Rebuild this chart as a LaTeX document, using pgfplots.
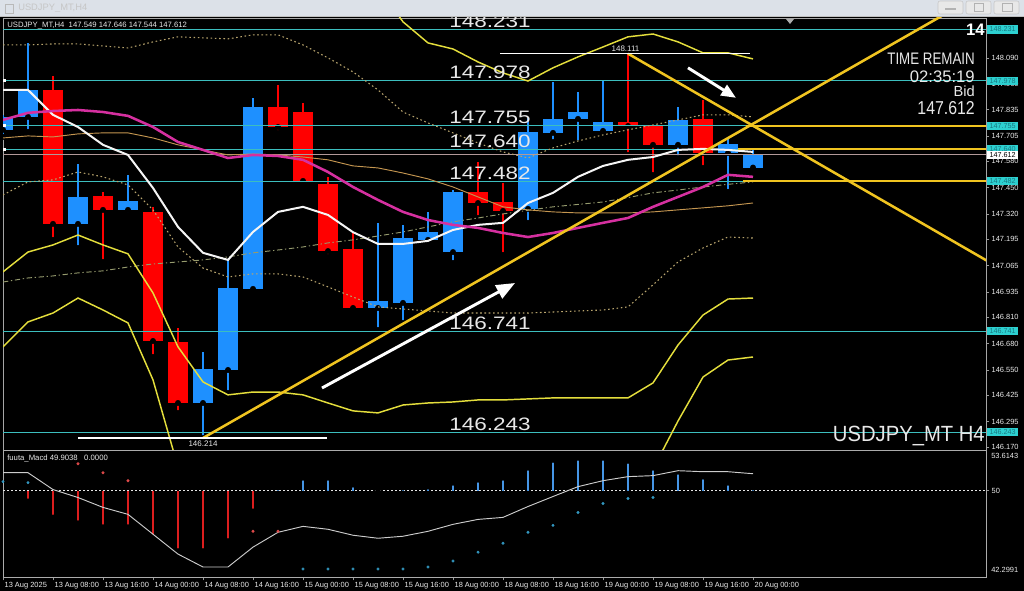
\documentclass[border=0pt]{standalone}
\usepackage{pgfplots}
\pgfplotsset{compat=1.18}
\usepackage{pgfplotstable}
\usepackage{fontspec}
\setmainfont{Liberation Sans}
\usetikzlibrary{arrows.meta}
\newcommand{\fs}[1]{\fontsize{#1}{#1}\selectfont}

\definecolor{upc}{RGB}{30,144,255}
\definecolor{dnc}{RGB}{255,0,0}
\definecolor{cyl}{RGB}{60,190,190}
\definecolor{gold}{RGB}{240,196,32}
\definecolor{byel}{RGB}{228,222,60}
\definecolor{mag}{RGB}{214,48,160}
\definecolor{tanl}{RGB}{196,150,80}
\definecolor{dashc}{RGB}{150,155,110}
\definecolor{dotc}{RGB}{185,165,110}
\definecolor{boxc}{RGB}{45,208,208}
\definecolor{boxt}{RGB}{25,120,130}
\definecolor{hblue}{RGB}{70,150,230}
\definecolor{hred}{RGB}{220,30,30}
\definecolor{tbar}{RGB}{220,225,232}
\definecolor{txt}{RGB}{232,232,232}

\pgfplotstableread{
i o h l c
0 147.735 147.810 147.700 147.799
1 147.799 148.164 147.725 147.932
3 147.271 147.567 147.152 147.404
5 147.340 147.512 147.315 147.384
8 146.387 146.639 146.214 146.555
9 146.550 147.093 146.436 146.955
10 146.950 147.893 146.940 147.848
15 146.856 147.276 146.747 146.891
16 146.881 147.266 146.782 147.202
17 147.192 147.330 147.185 147.231
18 147.132 147.440 147.078 147.429
21 147.345 147.794 147.276 147.725
22 147.720 147.972 147.675 147.789
23 147.789 147.922 147.670 147.823
24 147.730 147.981 147.720 147.774
27 147.661 147.848 147.596 147.784
29 147.621 147.695 147.429 147.665
30 147.549 147.646 147.544 147.612
}\candleUp

\pgfplotstableread{
i o h l c
2 147.932 148.001 147.192 147.271
4 147.409 147.429 147.083 147.340
6 147.330 147.355 146.614 146.693
7 146.688 146.757 146.338 146.387
11 147.848 147.957 147.720 147.749
12 147.823 147.868 147.473 147.483
13 147.468 147.503 147.108 147.137
14 147.147 147.226 146.840 146.856
19 147.429 147.577 147.300 147.374
20 147.379 147.473 147.118 147.335
25 147.774 148.111 147.611 147.754
26 147.754 147.760 147.512 147.661
28 147.789 147.883 147.547 147.621
}\candleDn

\pgfplotstableread{
i w m t d ud ld lba lbb ub
0 147.932 147.784 147.695 146.984 148.154 147.414 147.034 146.664 148.53
1 147.932 147.819 147.705 147.004 148.154 147.478 147.132 146.787 148.51
2 147.809 147.828 147.700 147.014 148.159 147.488 147.167 146.831 148.49
3 147.749 147.833 147.715 147.029 148.159 147.527 147.216 146.905 148.45
4 147.661 147.823 147.720 147.039 148.149 147.503 147.167 146.846 148.48
5 147.611 147.804 147.720 147.058 148.139 147.463 147.123 146.782 148.49
6 147.448 147.749 147.695 147.073 148.169 147.340 146.930 146.501 148.57
7 147.256 147.675 147.661 147.083 148.194 147.157 146.664 146.071 148.69
8 147.128 147.636 147.636 147.093 148.189 147.053 146.491 145.890 148.78
9 147.093 147.596 147.611 147.108 148.184 147.009 146.427 145.835 148.77
10 147.231 147.611 147.616 147.128 148.204 147.024 146.441 145.850 148.78
11 147.330 147.606 147.611 147.142 148.204 147.024 146.441 145.860 148.77
12 147.355 147.587 147.601 147.157 148.154 147.009 146.427 145.853 148.75
13 147.315 147.527 147.587 147.177 148.090 146.960 146.387 145.826 148.67
14 147.230 147.453 147.557 147.192 148.021 146.910 146.348 145.824 148.56
15 147.172 147.389 147.547 147.211 147.932 146.861 146.338 145.805 148.44
16 147.172 147.330 147.522 147.231 147.823 146.851 146.377 145.893 148.268
17 147.187 147.290 147.493 147.256 147.769 146.841 146.387 145.943 148.164
18 147.241 147.266 147.453 147.281 147.720 146.831 146.392 145.961 148.134
19 147.266 147.251 147.404 147.300 147.670 146.831 146.402 145.991 148.070
20 147.276 147.226 147.355 147.320 147.626 146.831 146.402 146.041 148.016
21 147.374 147.206 147.340 147.338 147.596 146.831 146.407 146.081 147.976
22 147.424 147.226 147.330 147.355 147.646 146.836 146.412 146.056 148.041
23 147.503 147.251 147.325 147.367 147.680 146.841 146.412 146.021 148.095
24 147.557 147.276 147.325 147.379 147.710 146.846 146.412 145.986 148.144
25 147.587 147.300 147.325 147.401 147.735 146.861 146.412 145.983 148.194
26 147.601 147.355 147.330 147.424 147.759 146.970 146.486 146.061 148.208
27 147.636 147.404 147.340 147.438 147.784 147.083 146.673 146.298 148.169
28 147.641 147.453 147.350 147.453 147.809 147.152 146.821 146.515 148.115
29 147.636 147.513 147.360 147.466 147.809 147.206 146.900 146.599 148.115
30 147.626 147.503 147.374 147.478 147.799 147.201 146.905 146.614 148.085
}\indic

\pgfplotstableread{
i v
1 49.03
2 47.60
3 47.08
4 46.73
5 46.73
6 45.84
7 44.60
8 44.60
9 45.49
10 48.14
}\hneg

\pgfplotstableread{
i v
11 50.27
12 51.15
13 51.15
14 50.53
15 50.09
16 50.27
17 50.35
18 50.70
19 50.97
20 51.15
21 52.04
22 52.74
23 52.92
24 52.92
25 52.65
26 52.04
27 51.68
28 51.24
29 50.70
30 50.27
}\hpos

\pgfplotstableread{
i v
3 52.39
4 51.59
5 50.88
10 46.37
11 46.37
}\dotred

\pgfplotstableread{
i v
0 50.80
1 50.71
12 43.01
13 43.01
14 43.01
15 43.01
16 43.01
17 43.19
18 43.72
19 44.51
20 45.31
21 46.28
22 46.90
23 48.05
24 48.85
25 49.29
26 49.38
}\dotcyan

\pgfplotstableread{
i s
0 51.59
1 51.59
2 50.09
3 49.38
4 48.50
5 47.88
6 46.11
7 44.34
8 43.19
9 43.19
10 44.96
11 46.28
12 46.81
13 46.55
14 46.02
15 45.75
16 45.93
17 46.37
18 46.99
19 47.43
20 47.61
21 48.58
22 49.47
23 50.35
24 50.88
25 51.24
26 51.33
27 51.77
28 51.68
29 51.68
30 51.50
}\sig

\tikzset{bigl/.style={font=\fs{13.5pt}, text=txt, inner sep=0pt}}

\begin{document}
\begin{tikzpicture}
\fill[black] (0,0) rectangle (768pt,443.25pt);

% ---------------- main price chart ----------------
\begin{axis}[
  name=main,
  at={(2.25pt,429.75pt)}, anchor=north west, scale only axis,
  width=737.25pt, height=324pt,
  xmin=0, xmax=39.32, ymin=146.155, ymax=148.287,
  clip mode=individual,
  axis line style={draw=gray!70, line width=0.6pt},
  xtick=\empty,
  ytick={146.170,146.295,146.425,146.550,146.680,146.810,146.935,147.065,147.195,147.320,147.450,147.580,147.705,147.835,147.960,148.090},
  ytick pos=right, yticklabel pos=right,
  tick align=outside, major tick length=2.5pt,
  tick style={draw=gray!80, line width=0.5pt},
  scaled y ticks=false,
  y tick label style={font=\fs{5.6pt}, text=white!85!gray, inner sep=1.5pt},
  yticklabel={\pgfmathprintnumber[fixed, fixed zerofill, precision=3, assume math mode=true]{\tick}},
]
% candles: wicks
\addplot[only marks, mark=none, error bars/.cd, y dir=plus, y explicit, error mark=none,
  error bar style={draw=upc, line width=1pt}]
  table[x=i, y=l, y error plus expr=\thisrow{h}-\thisrow{l}] {\candleUp};
\addplot[only marks, mark=none, error bars/.cd, y dir=plus, y explicit, error mark=none,
  error bar style={draw=dnc, line width=1pt}]
  table[x=i, y=l, y error plus expr=\thisrow{h}-\thisrow{l}] {\candleDn};
% candles: bodies
\addplot[only marks, mark=none, error bars/.cd, y dir=plus, y explicit, error mark=none,
  error bar style={draw=upc, line width=14.5pt}]
  table[x=i, y=o, y error plus expr=\thisrow{c}-\thisrow{o}] {\candleUp};
\addplot[only marks, mark=none, error bars/.cd, y dir=plus, y explicit, error mark=none,
  error bar style={draw=dnc, line width=14.5pt}]
  table[x=i, y=c, y error plus expr=\thisrow{o}-\thisrow{c}] {\candleDn};

% horizontal cyan levels
\addplot[cyl, line width=0.8pt, mark=none] coordinates {(0,148.231) (39.32,148.231)};
\addplot[cyl, line width=0.8pt, mark=none] coordinates {(0,147.978) (39.32,147.978)};
\addplot[cyl, line width=0.8pt, mark=none] coordinates {(0,147.755) (39.32,147.755)};
\addplot[cyl, line width=0.8pt, mark=none] coordinates {(0,147.640) (39.32,147.640)};
\addplot[cyl, line width=0.8pt, mark=none] coordinates {(0,147.482) (39.32,147.482)};
\addplot[cyl, line width=0.8pt, mark=none] coordinates {(0,146.741) (39.32,146.741)};
\addplot[cyl, line width=0.8pt, mark=none] coordinates {(0,146.243) (39.32,146.243)};
% bid line
\addplot[gray!60!pink, line width=0.5pt, mark=none] coordinates {(0,147.612) (39.32,147.612)};

% indicators
\addplot[dotc, line width=0.8pt, dash pattern=on 1.2pt off 2pt, mark=none] table[x=i,y=ud] {\indic};
\addplot[dotc, line width=0.8pt, dash pattern=on 1.2pt off 2pt, mark=none] table[x=i,y=ld] {\indic};
\addplot[dashc, line width=0.7pt, dash pattern=on 4pt off 2pt on 1pt off 2pt, mark=none] table[x=i,y=d] {\indic};
\addplot[tanl, line width=0.7pt, mark=none] table[x=i,y=t] {\indic};
\addplot[byel, line width=1.1pt, mark=none] table[x=i,y=lba] {\indic};
\addplot[byel, line width=1.1pt, mark=none] table[x=i,y=lbb] {\indic};
\addplot[byel, line width=1.1pt, mark=none] table[x=i,y=ub] {\indic};
\addplot[white!92!gray, line width=1.5pt, mark=none] table[x=i,y=w] {\indic};
\addplot[mag, line width=1.9pt, mark=none] table[x=i,y=m] {\indic};

% trend lines and levels
\addplot[gold, line width=1.9pt, mark=none] coordinates {(8,146.214) (38,148.329)};
\addplot[gold, line width=1.9pt, mark=none] coordinates {(25,148.111) (39.5,147.079)};
\addplot[gold, line width=1.9pt, mark=none] coordinates {(29.7,147.755) (39.32,147.755)};
\addplot[gold, line width=1.9pt, mark=none] coordinates {(29.4,147.640) (39.32,147.640)};
\addplot[gold, line width=1.9pt, mark=none] coordinates {(29.6,147.482) (39.32,147.482)};
% white high/low lines
\addplot[white, line width=1.1pt, mark=none] coordinates {(19.88,148.111) (29.88,148.111)};
\addplot[white, line width=1.1pt, mark=none] coordinates {(3,146.214) (12.96,146.214)};
% arrows
\addplot[white, line width=2.2pt, mark=none, -{Triangle[length=14pt,width=11pt]}] coordinates {(12.76,146.461) (20.48,146.979)};
\addplot[white, line width=2.2pt, mark=none, -{Triangle[length=11pt,width=9pt]}] coordinates {(27.4,148.041) (29.32,147.893)};

\coordinate (L1) at (axis cs:19.48,148.231);
\coordinate (L2) at (axis cs:19.48,147.978);
\coordinate (L3) at (axis cs:19.48,147.755);
\coordinate (L4) at (axis cs:19.48,147.640);
\coordinate (L5) at (axis cs:19.48,147.482);
\coordinate (L6) at (axis cs:19.48,146.741);
\coordinate (L7) at (axis cs:19.48,146.243);
\coordinate (H1) at (axis cs:24.9,148.111);
\coordinate (H2) at (axis cs:8,146.214);
\end{axis}

% ---------------- MACD panel ----------------
\begin{axis}[
  at={(2.25pt,10.5pt)}, anchor=south west, scale only axis,
  width=737.25pt, height=95.25pt,
  xmin=0, xmax=39.32, ymin=42.2991, ymax=53.6143,
  clip mode=individual,
  axis line style={draw=gray!65, line width=0.6pt},
  xtick={0,2,...,30},
  xticklabels={13 Aug 2025,13 Aug 08:00,13 Aug 16:00,14 Aug 00:00,14 Aug 08:00,14 Aug 16:00,15 Aug 00:00,15 Aug 08:00,15 Aug 16:00,18 Aug 00:00,18 Aug 08:00,18 Aug 16:00,19 Aug 00:00,19 Aug 08:00,19 Aug 16:00,20 Aug 00:00},
  xtick pos=bottom, ytick pos=right, yticklabel pos=right,
  ytick={50}, yticklabels={50},
  tick align=outside, major tick length=2.5pt,
  tick style={draw=gray!80, line width=0.5pt},
  xticklabel style={anchor=north west, font=\fs{5.6pt}, text=white!85!gray, inner sep=1pt},
  yticklabel style={font=\fs{5.6pt}, text=white!85!gray, inner sep=1.5pt},
]
\addplot[white!80!gray, line width=0.6pt, dash pattern=on 1.5pt off 1.5pt, mark=none] coordinates {(0,50) (39.32,50)};
\addplot[only marks, mark=none, error bars/.cd, y dir=plus, y explicit, error mark=none,
  error bar style={draw=hred, line width=1.6pt}]
  table[x=i, y=v, y error plus expr=50-\thisrow{v}] {\hneg};
\addplot[only marks, mark=none, error bars/.cd, y dir=minus, y explicit, error mark=none,
  error bar style={draw=hblue, line width=1.6pt}]
  table[x=i, y=v, y error minus expr=\thisrow{v}-50] {\hpos};
\addplot[gray!40!white, line width=0.7pt, mark=none] table[x=i,y=s] {\sig};
\addplot[only marks, mark=*, mark size=0.9pt, color=hred!80!white] table[x=i,y=v] {\dotred};
\addplot[only marks, mark=*, mark size=0.9pt, color=cyan!50!teal] table[x=i,y=v] {\dotcyan};
\end{axis}

% level labels (anchored to axis coordinates)
\foreach \c/\t in {L1/148.231,L2/147.978,L3/147.755,L4/147.640,L5/147.482,L6/146.741,L7/146.243} {
  \node[bigl, anchor=south, xscale=1.25] at ([yshift=1.2pt]\c) {\t};
}
\node[font=\fs{6pt}, text=txt, anchor=south, inner sep=0pt] at ([yshift=1pt]H1) {148.111};
\node[font=\fs{6pt}, text=txt, anchor=north, inner sep=0pt] at ([yshift=-2pt]H2) {146.214};

\begin{scope}[x=0.75pt,y=0.75pt]
% ---------------- title bar ----------------
\fill[tbar] (0,575) rectangle (1024,591);
\draw[gray!50, line width=0.6pt] (0,574.7) -- (1024,574.7);
\draw[gray!55, line width=0.6pt] (5,578) rectangle (13,587);
\node[anchor=west, font=\fs{7pt}, text=gray!45, inner sep=0pt] at (18,583) {USDJPY\_MT,H4};
\foreach \bx in {938,966,994} {
  \fill[rounded corners=1.5pt, gray!18, draw=gray!45] (\bx,577) rectangle (\bx+25,590);
}
\draw[gray!60, line width=0.8pt] (945,582) -- (956,582);
\draw[gray!60, line width=0.6pt] (974,580) rectangle (983,588);
\draw[gray!60, line width=0.6pt] (1002,580) rectangle (1012,588);
\fill[gray!65] (786,572) -- (794,572) -- (790,567);

% ---------------- header texts ----------------
\node[anchor=west, font=\fs{5.8pt}, text=txt, inner sep=0pt] at (7,565) {USDJPY\_MT,H4\ \ 147.549 147.646 147.544 147.612};
\node[anchor=west, font=\fs{5.8pt}, text=txt, inner sep=0pt] at (7,133) {fuuta\_Macd 49.9038\ \ \ 0.0000};
\node[anchor=east, font=\bfseries\fs{12.5pt}, text=white, inner sep=0pt] at (985,561) {14};
\node[anchor=east, font=\fs{12.5pt}, text=txt, inner sep=0pt, xscale=0.8] at (975,532) {TIME REMAIN};
\node[anchor=east, font=\fs{12.5pt}, text=txt, inner sep=0pt] at (975,514) {02:35:19};
\node[anchor=east, font=\fs{11pt}, text=txt, inner sep=0pt] at (975,499.5) {Bid};
\node[anchor=east, font=\fs{14pt}, text=txt, inner sep=0pt, xscale=0.85] at (975,483) {147.612};
\node[anchor=east, font=\fs{16.5pt}, text=txt, inner sep=0pt, xscale=0.92] at (985,155) {USDJPY\_MT H4};

% small markers at left edge
\fill[white] (3,508.8) rectangle (6,511.8);
\fill[white] (3,463.6) rectangle (6,466.6);
\fill[white] (3,440.3) rectangle (6,443.3);

% ---------------- right axis boxes ----------------
\tikzset{cbox/.style={fill=boxc, text=boxt, font=\fs{5.4pt}, inner sep=0.6pt, anchor=west, minimum width=23pt, minimum height=6.2pt}}
\node[cbox] at (987,561.6) {148.231};
\node[cbox] at (987,510.3) {147.978};
\node[cbox] at (987,465.1) {147.755};
\node[cbox] at (987,441.8) {147.640};
\node[cbox, fill=white, text=black] at (987,436.2) {147.612};
\node[cbox] at (987,409.8) {147.482};
\node[cbox] at (987,259.7) {146.741};
\node[cbox] at (987,158.8) {146.243};
\node[anchor=west, font=\fs{5.6pt}, text=white!85!gray, inner sep=1.5pt] at (989,135) {53.6143};
\node[anchor=west, font=\fs{5.6pt}, text=white!85!gray, inner sep=1.5pt] at (989,21) {42.2991};
\end{scope}

\pgfresetboundingbox
\useasboundingbox (0,0) rectangle (768pt,443.25pt);
\end{tikzpicture}
\end{document}
